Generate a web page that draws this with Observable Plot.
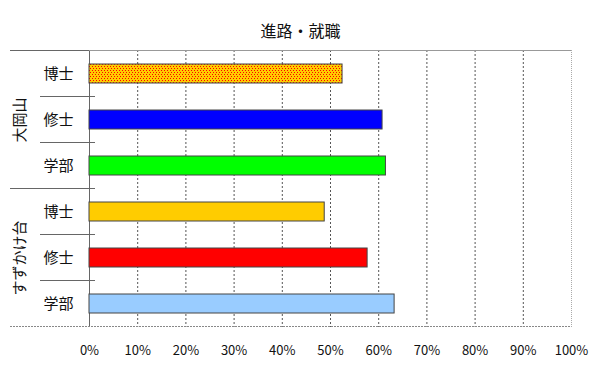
<!DOCTYPE html>
<html>
<head>
<meta charset="utf-8">
<script src="https://cdn.jsdelivr.net/npm/d3@7"></script>
<script src="https://cdn.jsdelivr.net/npm/@observablehq/plot@0.6"></script>
<style>
  html, body { margin: 0; padding: 0; background: #fff; }
</style>
</head>
<body>
<div id="chart"></div>
<script>
const title = "進路・就職";
const groups = ["大岡山", "大岡山", "大岡山", "すずかけ台", "すずかけ台", "すずかけ台"];
const degrees = ["博士", "修士", "学部", "博士", "修士", "学部"];
const values = [0.525, 0.608, 0.615, 0.488, 0.577, 0.633];
const colors = ["url(#dots)", "#0000FF", "#00FF00", "#FFCC00", "#FF0000", "#99CCFF"];
const xTicks = [0, 0.1, 0.2, 0.3, 0.4, 0.5, 0.6, 0.7, 0.8, 0.9, 1];

const rows = groups.map((g, i) => ({
  key: g + "|" + degrees[i],
  group: g,
  degree: degrees[i],
  value: values[i],
  color: colors[i]
}));
const keys = rows.map(d => d.key);
const groupNames = Array.from(new Set(groups));
const groupMid = groupNames.map(g => {
  const r = rows.filter(d => d.group === g);
  return r[Math.floor(r.length / 2)];
});

const font = "'Noto Sans CJK JP', 'Noto Sans', sans-serif";

const chart = Plot.plot({
  width: 600,
  height: 372,
  marginLeft: 89,
  marginRight: 29,
  marginTop: 50,
  marginBottom: 45,
  style: { fontFamily: font, background: "#fff", color: "#111" },
  x: { domain: [0, 1], axis: null, label: null },
  y: { type: "band", domain: keys, paddingInner: 0.59, paddingOuter: 0.295, axis: null },
  color: { type: "identity" },
  marks: [
    Plot.ruleX(xTicks.slice(1, -1), { stroke: "#555", strokeDasharray: "2,2", strokeWidth: 1 }),
    Plot.ruleX([1], { stroke: "#aaa", strokeDasharray: "1,1", strokeWidth: 1 }),
    Plot.ruleX([0], { stroke: "#666", strokeWidth: 1 }),
    Plot.barX(rows, { x: "value", y: "key", fill: "color", stroke: "#444", strokeWidth: 1 }),
    Plot.axisX({ ticks: xTicks, tickSize: 0, tickPadding: 18, fontSize: 13, tickFormat: d3.format(".0%"), fill: "#111", label: null }),
    Plot.text(rows, { x: 0, y: "key", text: "degree", dx: -31, fontSize: 15, fill: "#111" }),
    Plot.text(groupMid, { x: 0, y: "key", text: "group", rotate: -90, dx: -69, fontSize: 15, fill: "#111" }),
    Plot.text([title], { frameAnchor: "top", dy: -25, dx: -30, fontSize: 16, fill: "#111" })
  ]
});

const svg = d3.select(chart);
svg.insert("defs", ":first-child").html(
  '<pattern id="dots" width="3" height="4" patternUnits="userSpaceOnUse">' +
  '<rect width="3" height="4" fill="#FFCC00"></rect>' +
  '<rect x="0" y="0" width="1" height="1" fill="#FF0000"></rect>' +
  '<rect x="2" y="2" width="1" height="1" fill="#FF0000"></rect>' +
  '</pattern>'
);

// category separators in the left label area, placed with the chart's scales
const ys = chart.scale("y");
const xs = chart.scale("x");
const step = ys.step, bw = ys.bandwidth;
const px0 = xs.apply(0), px1 = xs.apply(1);
const bandTop = i => ys.apply(keys[i]) - (step - bw) / 2;
const sepG = svg.append("g");
const line = (xa, xb, y, stroke, dash) => sepG.append("line")
  .attr("x1", xa).attr("x2", xb).attr("y1", y).attr("y2", y)
  .attr("stroke", stroke).attr("stroke-dasharray", dash || null)
  .attr("shape-rendering", "crispEdges");
for (let i = 0; i <= keys.length; i++) {
  const y = i < keys.length ? bandTop(i) : bandTop(keys.length - 1) + step;
  if (i === 0) {
    line(px0 - 79, px0, y, "#666");
    line(px0, px1, y, "#999");
  } else if (i === keys.length) {
    line(px0 - 79, px1, y, "#888", "2,1");
  } else if (rows[i].group !== rows[i - 1].group) {
    line(px0 - 79, px0 + 6, y, "#666");
  } else {
    line(px0 - 49, px0 + 6, y, "#666");
  }
}

document.getElementById("chart").appendChild(chart);
</script>
</body>
</html>
